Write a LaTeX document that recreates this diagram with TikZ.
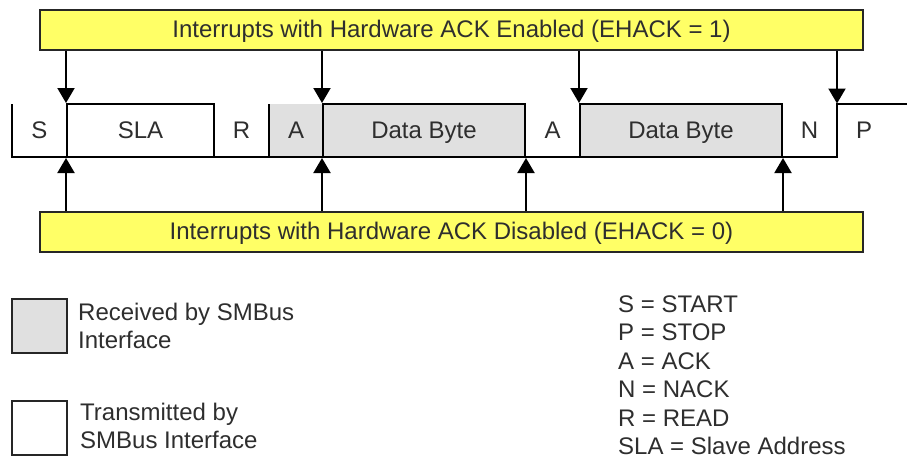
\documentclass[tikz,border=0pt]{standalone}
\usepackage{fontspec}
\setmainfont{Liberation Sans}
\usetikzlibrary{arrows.meta}
\definecolor{smYellow}{HTML}{FFFF66}
\definecolor{smGray}{HTML}{E0E0E0}
\definecolor{smInk}{HTML}{2E2E2E}

\begin{document}
\begin{tikzpicture}[
    x=1pt, y=-1pt,
    font=\fontsize{24}{28.5}\selectfont,
    text=smInk,
    bar/.style   ={draw=black!85, line width=2.2pt, fill=smYellow, minimum width=823pt, minimum height=40pt, inner sep=0pt, text height=17pt, text depth=3pt},
    rxbox/.style ={draw, line width=2pt, fill=smGray, minimum height=53pt, inner sep=0pt, text height=17pt, text depth=2pt},
    txbox/.style ={draw, line width=2pt, fill=white, minimum height=53pt, inner sep=0pt, text height=17pt, text depth=2pt},
    fld/.style   ={inner sep=0pt, text height=17pt, text depth=2pt},
    key/.style   ={draw=black!85, line width=2.2pt, minimum width=55pt, minimum height=54pt, inner sep=0pt},
    note/.style  ={anchor=north west, align=left, inner sep=0pt},
    wave/.style  ={line width=2pt},
    arr/.style   ={-{Triangle[width=17pt,length=15pt]}, line width=2pt},
]
\useasboundingbox (0,0) rectangle (907,459);

% ---- Interrupt bars ----
\node[bar] (ackon)  at (451.5,30)  {Interrupts with Hardware ACK Enabled (EHACK = 1)};
\node[bar] (ackoff) at (451.5,232) {Interrupts with Hardware ACK Disabled (EHACK = 0)};

% ---- Transfer fields ----
\fill[smGray] (269,104) rectangle (323,157);
\node[txbox, minimum width=147pt] (sla)   at (140.5,130.5) {SLA};
\node[rxbox, minimum width=202pt] (data1) at (424,130.5)   {Data Byte};
\node[rxbox, minimum width=202pt] (data2) at (681,130.5)   {Data Byte};
\draw[wave] (12,104) -- (12,157) -- (837,157) -- (837,103.5) -- (907,103.5);
\draw[wave] (269,104) -- (269,157);
\coordinate (stop) at (837,103.5);

\node[fld] (fs)  at (39.5,130.5)  {S};
\node[fld] (fr)  at (241.5,130.5) {R};
\node[fld] (fa1) at (296,130.5)   {A};
\node[fld] (fa2) at (552.5,130.5) {A};
\node[fld] (fn)  at (809.5,130.5) {N};
\node[fld] (fp)  at (864,130.5)   {P};

% ---- Interrupt arrows ----
\draw[arr] (ackon.south -| sla.north west)   -- (sla.north west);
\draw[arr] (ackon.south -| data1.north west) -- (data1.north west);
\draw[arr] (ackon.south -| data2.north west) -- (data2.north west);
\draw[arr] (ackon.south -| stop)             -- (stop);

\draw[arr] (ackoff.north -| sla.south west)   -- (sla.south west);
\draw[arr] (ackoff.north -| data1.south west) -- (data1.south west);
\draw[arr] (ackoff.north -| data1.south east) -- (data1.south east);
\draw[arr] (ackoff.north -| data2.south east) -- (data2.south east);

% ---- Legend ----
\node[key, fill=smGray] (rxkey) at (39.5,326) {};
\node[key, fill=white]  (txkey) at (39.5,428) {};
\node[note] (rxtext) at (78,302.5) {Received by SMBus\\Interface};
\node[note] (txtext) at (80,402.5) {Transmitted by\\SMBus Interface};
\node[note] (abbr) at (618,295.5)
  {S = START\\P = STOP\\A = ACK\\N = NACK\\R = READ\\SLA = Slave Address};

\end{tikzpicture}
\end{document}
